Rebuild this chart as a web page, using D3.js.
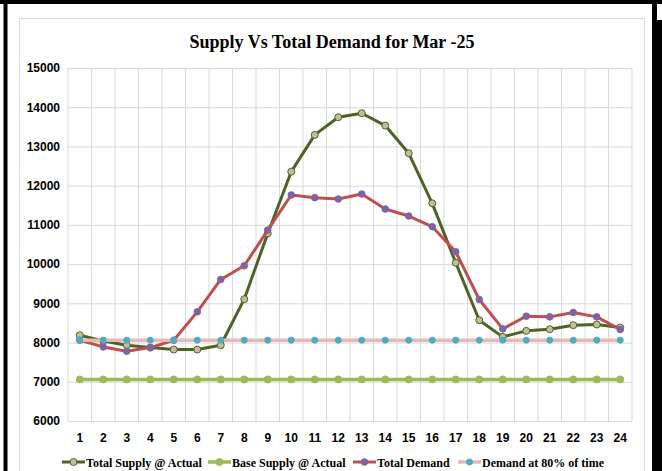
<!DOCTYPE html>
<html>
<head>
<meta charset="utf-8">
<script src="https://cdn.jsdelivr.net/npm/d3@7"></script>
<style>
  body { margin: 0; background: #fff; }
  .tick text { font-family: "Liberation Sans", Arial, sans-serif; font-weight: bold; font-size: 12px; fill: #000; }
  .legend text { font-family: "Liberation Serif", serif; font-weight: bold; font-size: 12px; fill: #000; }
</style>
</head>
<body>
<div id="chart"></div>
<script>
// chart data
const hours = d3.range(1, 25);
const totalSupply = [8187, 8040, 7932, 7872, 7821, 7821, 7932, 9106, 10783, 12357, 13294, 13745,
                     13847, 13532, 12826, 11549, 10034, 8570, 8145, 8298, 8340, 8443, 8460, 8383];
const baseSupply = Array(24).fill(7060);
const totalDemand = [8060, 7889, 7779, 7872, 8060, 8783, 9609, 9957, 10868, 11762, 11694, 11660,
                     11787, 11404, 11226, 10953, 10315, 9098, 8349, 8672, 8655, 8766, 8655, 8332];
const demand80 = Array(24).fill(8060);
const yTicks = d3.range(6000, 15001, 1000);

const seriesNames = ["Total Supply @ Actual", "Base Supply @ Actual", "Total Demand", "Demand at 80% of time"];

const W = 662, H = 471;
const plot = {left: 68, right: 632, top: 68, bottom: 421};

const svg = d3.select("#chart").append("svg")
    .attr("width", W)
    .attr("height", H);

// outer black frame
svg.append("rect").attr("x", 0).attr("y", 0).attr("width", W).attr("height", 4).attr("fill", "#000");
svg.append("rect").attr("x", 3.5).attr("y", 0).attr("width", 4).attr("height", H).attr("fill", "#000");
svg.append("rect").attr("x", 652).attr("y", 0).attr("width", 5).attr("height", H).attr("fill", "#000");
svg.append("rect").attr("x", 652).attr("y", 20).attr("width", 10).attr("height", H - 20).attr("fill", "#000");

// chart box
svg.append("rect")
    .attr("x", 19.5).attr("y", 18.5)
    .attr("width", 625).attr("height", 470)
    .attr("fill", "#fff")
    .attr("stroke", "#d9d9d9");

// title
svg.append("text")
    .attr("x", 332).attr("y", 48)
    .attr("text-anchor", "middle")
    .style("font-family", "'Liberation Serif', serif")
    .style("font-weight", "bold")
    .style("font-size", "18px")
    .text("Supply Vs Total Demand for Mar -25");

// scales
const x = d3.scaleBand().domain(hours).range([plot.left, plot.right]);
const y = d3.scaleLinear().domain([6000, 15000]).range([plot.bottom, plot.top]);
const cx = function(d, i) { return x(hours[i]) + x.bandwidth() / 2; };

// horizontal grid + y labels
const yAxis = svg.append("g")
    .attr("transform", "translate(" + plot.left + ",0)")
    .call(d3.axisLeft(y).tickValues(yTicks).tickSize(-(plot.right - plot.left)).tickPadding(8).tickFormat(d3.format("d")));
yAxis.select(".domain").remove();
yAxis.selectAll(".tick line").attr("stroke", "#d9d9d9");

// vertical grid at band edges
svg.append("g").selectAll("line")
    .data(hours.concat([25]))
    .enter().append("line")
    .attr("x1", function(d) { return d === 25 ? plot.right : x(d); })
    .attr("x2", function(d) { return d === 25 ? plot.right : x(d); })
    .attr("y1", plot.top).attr("y2", plot.bottom)
    .attr("stroke", "#d9d9d9");

// x labels
const xAxis = svg.append("g")
    .attr("transform", "translate(0," + plot.bottom + ")")
    .call(d3.axisBottom(x).tickSize(0).tickPadding(12));
xAxis.select(".domain").remove();

const line = d3.line().x(cx).y(function(d) { return y(d); });

const styles = [
  {data: totalSupply, stroke: "#4f6228", width: 3, fill: "#c4bd97", mstroke: "#4f6228", r: 3.5},
  {data: baseSupply, stroke: "#9bbb59", width: 3.5, fill: "#9bbb59", mstroke: "#9bbb59", r: 3.5},
  {data: totalDemand, stroke: "#c0504d", width: 3, fill: "#8064a2", mstroke: "#8064a2", r: 3.3},
  {data: demand80, stroke: "#e6b9b8", width: 3.5, fill: "#4bacc6", mstroke: "#4bacc6", r: 3}
];

styles.forEach(function(s) {
  svg.append("path")
      .datum(s.data)
      .attr("d", line)
      .attr("fill", "none")
      .attr("stroke", s.stroke)
      .attr("stroke-width", s.width)
      .attr("stroke-linejoin", "round");
  svg.append("g").selectAll("circle")
      .data(s.data)
      .enter().append("circle")
      .attr("cx", cx)
      .attr("cy", function(d) { return y(d); })
      .attr("r", s.r)
      .attr("fill", s.fill)
      .attr("stroke", s.mstroke)
      .attr("stroke-width", 1);
});

// legend
const legendX = [62, 208, 353, 458];
const legend = svg.append("g").attr("class", "legend");
styles.forEach(function(s, i) {
  const g = legend.append("g").attr("transform", "translate(" + legendX[i] + ",462)");
  g.append("line").attr("x1", 0).attr("x2", 23).attr("y1", 0).attr("y2", 0)
      .attr("stroke", s.stroke).attr("stroke-width", s.width);
  g.append("circle").attr("cx", 11.5).attr("cy", 0).attr("r", s.r)
      .attr("fill", s.fill).attr("stroke", s.mstroke).attr("stroke-width", 1);
  g.append("text").attr("x", 24).attr("y", 4.5).text(seriesNames[i]);
});
</script>
</body>
</html>
